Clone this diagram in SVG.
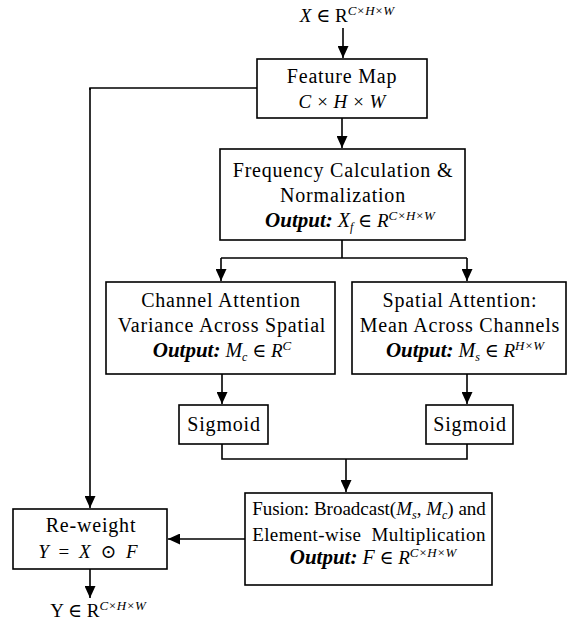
<svg xmlns="http://www.w3.org/2000/svg" width="573" height="628" viewBox="0 0 573 628">
<defs>
<marker id="ah" viewBox="0 0 12 11" refX="12" refY="5.5" markerWidth="12" markerHeight="11" markerUnits="userSpaceOnUse" orient="auto">
<path d="M0,0 L12,5.5 L0,11 z" fill="#000"/>
</marker>
<style>
.box{fill:#fff;stroke:#000;stroke-width:1.6}
.ln{fill:none;stroke:#000;stroke-width:1.6}
.ar{fill:none;stroke:#000;stroke-width:1.6;marker-end:url(#ah)}
text{font-family:"Liberation Serif","DejaVu Serif",serif;font-size:19px;fill:#000;text-anchor:middle}
.t{font-size:20px;letter-spacing:0.8px}
.i{font-style:italic}
.b{font-weight:bold;font-style:italic;font-size:21px}
.sup{font-size:13px;font-style:italic}
.sub{font-size:12px;font-style:italic}
</style>
</defs>
<g id="connectors">
<path class="ar" d="M343,28 V58"/>
<path class="ar" d="M342,118 V148"/>
<path class="ln" d="M342,240 V258 H221 M342,258 H467"/>
<path class="ar" d="M221,258 V281"/>
<path class="ar" d="M467,258 V281"/>
<path class="ar" d="M222,374 V404"/>
<path class="ar" d="M467,374 V404"/>
<path class="ln" d="M222,444 V459 H467 V444"/>
<path class="ar" d="M346,459 V492"/>
<path class="ln" d="M257,88 H90 V90"/>
<path class="ar" d="M90,88 V508"/>
<path class="ar" d="M245,539 H168"/>
<path class="ar" d="M90,569 V598"/>
</g>
<g id="input">
<text x="347" y="22"><tspan class="i">X</tspan> ∈ R<tspan class="sup" dy="-7">C×H×W</tspan></text>
</g>
<g id="feature-map">
<rect class="box" x="257" y="59" width="170" height="59"/>
<text class="t" x="342" y="83">Feature Map</text>
<text x="342" y="108" class="i">C × H × W</text>
</g>
<g id="frequency">
<rect class="box" x="220" y="149" width="245" height="91"/>
<text class="t" x="343" y="177">Frequency Calculation &amp;</text>
<text class="t" x="343" y="202">Normalization</text>
<text x="350" y="227"><tspan class="b">Output:</tspan><tspan class="i" font-size="20px"> X</tspan><tspan class="sub" dy="4">f</tspan><tspan dy="-4"> ∈ </tspan><tspan class="i">R</tspan><tspan class="sup" dy="-7">C×H×W</tspan></text>
</g>
<g id="channel-attention">
<rect class="box" x="106" y="282" width="229" height="92"/>
<text class="t" x="221" y="307">Channel Attention</text>
<text class="t" x="222" y="332">Variance Across Spatial</text>
<text x="222" y="357"><tspan class="b">Output:</tspan><tspan class="i" font-size="20px"> M</tspan><tspan class="sub" dy="4">c</tspan><tspan dy="-4"> ∈ </tspan><tspan class="i">R</tspan><tspan class="sup" dy="-7">C</tspan></text>
</g>
<g id="spatial-attention">
<rect class="box" x="352" y="282" width="214" height="92"/>
<text class="t" x="460" y="307">Spatial Attention:</text>
<text class="t" x="460" y="332">Mean Across Channels</text>
<text x="465" y="357"><tspan class="b">Output:</tspan><tspan class="i" font-size="20px"> M</tspan><tspan class="sub" dy="4">s</tspan><tspan dy="-4"> ∈ </tspan><tspan class="i">R</tspan><tspan class="sup" dy="-7">H×W</tspan></text>
</g>
<g id="sigmoid-left">
<rect class="box" x="179" y="405" width="89" height="39"/>
<text class="t" x="224" y="431">Sigmoid</text>
</g>
<g id="sigmoid-right">
<rect class="box" x="426" y="405" width="87" height="39"/>
<text class="t" x="470" y="431">Sigmoid</text>
</g>
<g id="fusion">
<rect class="box" x="245" y="493" width="247" height="92"/>
<text x="369" y="515" font-size="19.5px">Fusion: Broadcast(<tspan class="i">M</tspan><tspan class="sub" dy="4">s</tspan><tspan dy="-4">, </tspan><tspan class="i">M</tspan><tspan class="sub" dy="4">c</tspan><tspan dy="-4">) and</tspan></text>
<text x="369" y="541" font-size="20px" letter-spacing="0.4px" word-spacing="5px">Element-wise Multiplication</text>
<text x="373" y="564"><tspan class="b">Output:</tspan><tspan class="i" font-size="20px"> F</tspan> ∈ <tspan class="i">R</tspan><tspan class="sup" dy="-7">C×H×W</tspan></text>
</g>
<g id="reweight">
<rect class="box" x="13" y="509" width="154" height="60"/>
<text class="t" x="91" y="532">Re-weight</text>
<text x="88" y="558" font-size="20px" word-spacing="5px"><tspan class="i">Y</tspan> = <tspan class="i">X</tspan> ⊙ <tspan class="i">F</tspan></text>
</g>
<g id="output">
<text x="98" y="617">Y ∈ R<tspan class="sup" dy="-7">C×H×W</tspan></text>
</g>
</svg>
